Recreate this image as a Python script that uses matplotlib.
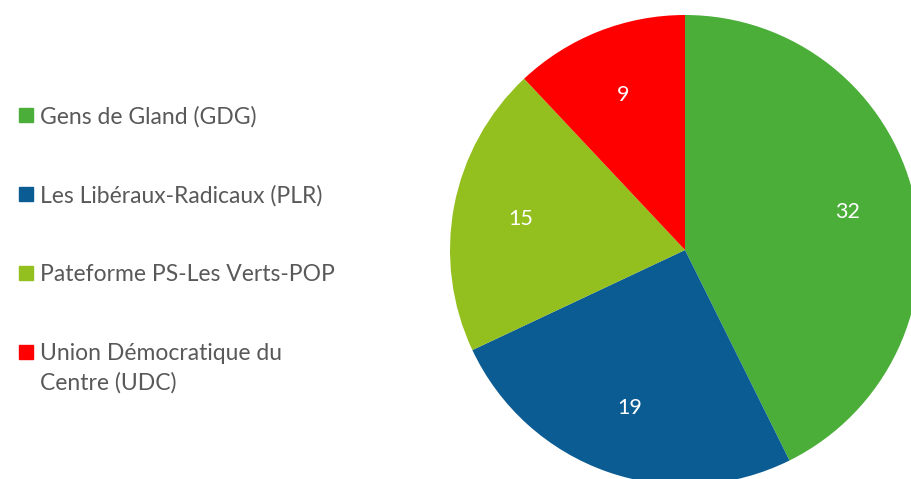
import matplotlib.pyplot as plt
from matplotlib.patches import Rectangle

# Seats per party
parties = ['Gens de Gland (GDG)', 'Les Libéraux-Radicaux (PLR)',
           'Pateforme PS-Les Verts-POP', 'Union Démocratique du\nCentre (UDC)']
seats = [32, 19, 15, 9]
colors = ['#4aae38', '#0b5c92', '#93c01f', '#ff0000']

plt.rcParams['font.family'] = ['Lato', 'DejaVu Sans']

W, H = 911, 479
fig = plt.figure(figsize=(W / 100, H / 100), dpi=100)
fig.patch.set_facecolor('white')
ax = fig.add_axes([0, 0, 1, 1])

wedges, texts, autotexts = ax.pie(
    seats, colors=colors, startangle=90, counterclock=False,
    center=(685, H - 250), radius=235,
    autopct=lambda p: f'{round(p * sum(seats) / 100):d}', pctdistance=0.71,
    textprops={'color': 'white', 'fontsize': 15.5}, frame=True)
ax.set_xlim(0, W)
ax.set_ylim(0, H)
ax.set_aspect('equal')
ax.axis('off')

# legend drawn by hand so the marker sits on the first line of each label
for i, (name, col) in enumerate(zip(parties, colors)):
    y = H - (115 + i * 79)
    ax.add_patch(Rectangle((19, y - 7), 14, 14, color=col, clip_on=False))
    ax.text(40, y + 9, name, color='#595959', fontsize=16.5, va='top',
            linespacing=1.45)

fig.savefig('out.png', dpi=100, facecolor='white')
